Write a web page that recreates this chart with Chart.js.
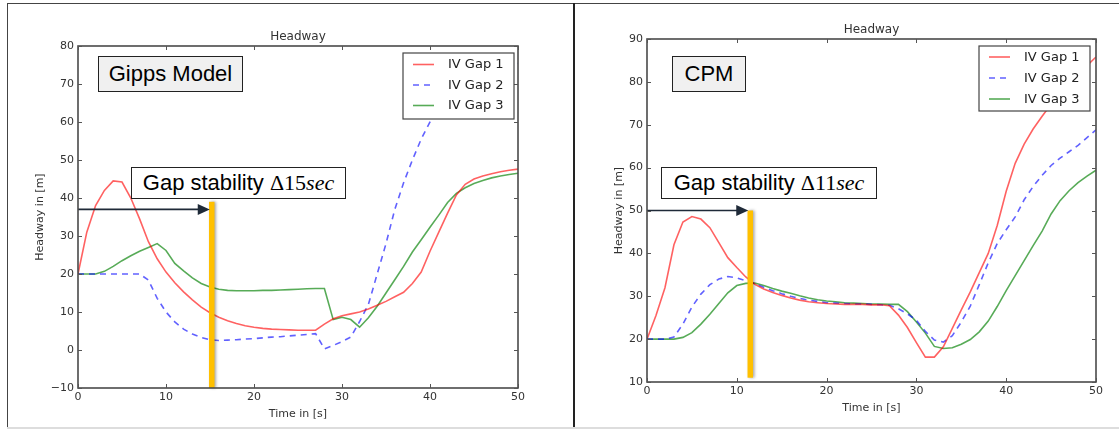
<!DOCTYPE html>
<html>
<head>
<meta charset="utf-8">
<script src="https://cdn.jsdelivr.net/npm/chart.js@4.4.1/dist/chart.umd.min.js"></script>
<style>
html,body{margin:0;padding:0;background:#fff;}
body{width:1119px;height:429px;position:relative;overflow:hidden;font-family:"Liberation Sans",Arial,sans-serif;}
canvas{position:absolute;top:0;}
.rule{position:absolute;}
.box{position:absolute;box-sizing:border-box;border:1px solid #222;display:flex;align-items:center;justify-content:center;white-space:nowrap;color:#000;font-size:22px;line-height:1;}
.m{font-family:"Liberation Serif","DejaVu Serif",serif;}
.m i{font-style:italic;}
</style>
</head>
<body>
<div class="rule" style="left:7px;top:3px;width:1112px;height:1px;background:#444;"></div>
<div class="rule" style="left:7px;top:3px;width:1px;height:425px;background:#444;"></div>
<div class="rule" style="left:573px;top:3px;width:2px;height:426px;background:#222;"></div>
<div class="rule" style="left:7px;top:427px;width:1112px;height:2px;background:#ddd;"></div>

<canvas id="gipps" width="572" height="429" style="left:0px;width:572px;height:429px;"></canvas>
<canvas id="cpm" width="544" height="429" style="left:575px;width:544px;height:429px;"></canvas>

<div class="box" style="left:98px;top:56px;width:145px;height:36px;background:#f0f0f0;">Gipps Model</div>
<div class="box" style="left:672px;top:56px;width:74px;height:36px;background:#f0f0f0;">CPM</div>
<div class="box" style="left:131px;top:167px;width:215px;height:32px;background:#fff;">Gap stability&nbsp;<span class="m">Δ15<i>sec</i></span></div>
<div class="box" style="left:661px;top:167px;width:216px;height:32px;background:#fff;">Gap stability&nbsp;<span class="m">Δ11<i>sec</i></span></div>

<script>
// ---------- data ----------
const timeS = [0,1,2,3,4,5,6,7,8,9,10,11,12,13,14,15,16,17,18,19,20,21,22,23,24,25,26,27,28,29,30,31,32,33,34,35,36,37,38,39,40,41,42,43,44,45,46,47,48,49,50];
const seriesNames = ['IV Gap 1','IV Gap 2','IV Gap 3'];
const xTicks = [0,10,20,30,40,50];
const gippsYTicks = [-10,0,10,20,30,40,50,60,70,80];
const cpmYTicks = [10,20,30,40,50,60,70,80,90];

const gippsGap1 = [20,31,38,42,44.5,44.2,40,34.5,28.5,24,
  20.5,17.7,15.3,13.2,11.3,9.8,8.6,7.7,7,6.4,
  6,5.7,5.5,5.4,5.3,5.2,5.2,5.2,6.8,8.2,
  9,9.5,10,10.8,11.8,12.8,14,15.2,17.5,20.5,
  26,31,36,40.8,43.6,45,45.8,46.4,46.9,47.3,47.6];
const gippsGap2 = [20,20,20,20,20,20,20,20,18.4,13.6,
  10,7.4,5.5,4.2,3.3,2.7,2.5,2.6,2.7,2.9,
  3,3.2,3.4,3.5,3.7,3.9,4.1,4.3,0.3,1.2,
  2.2,3.4,7.5,12,20,28,37,44,50,55.5,
  60,64,67.5,70.5,73,74.5,75.2,75.4,75.4,75.4,75.4];
const gippsGap3 = [20,20,20,20.7,22,23.5,24.8,26,27,28,
  26.2,22.8,20.8,19,17.5,16.6,16,15.7,15.6,15.6,
  15.6,15.7,15.7,15.8,15.9,16,16.1,16.2,16.2,8,
  8.6,8,6,8.5,11.5,15,18.5,22,25.8,29,
  32.3,35.5,38.8,41.2,42.7,43.8,44.6,45.3,45.8,46.2,46.5];

const cpmGap1 = [20,25.5,32,42,47.3,48.6,48,46,42.5,39,
  36.7,34.5,32.8,31.7,30.9,30.2,29.6,29.1,28.7,28.5,
  28.3,28.2,28.1,28.1,28.1,28,28,27.8,25.6,22.7,
  19.2,15.8,15.8,18.2,22.5,26.8,31,35.5,40,46.5,
  54.5,61,65.5,69,72,74.8,77.2,79.5,81.7,83.8,85.8];
const cpmGap2 = [20,20,20,20.5,23.5,27.5,30.5,32.7,34,34.6,
  34.3,33.6,32.9,32.1,31.3,30.6,30,29.5,29.1,28.8,
  28.5,28.4,28.3,28.2,28.2,28.1,28,27.9,27.1,25.9,
  24.4,21.8,19.8,19.3,20.8,24,27.7,32.7,37.8,42.3,
  45.5,48.5,52.5,55.6,58.2,60.5,62.2,63.7,65.2,67,68.8];
const cpmGap3 = [20,20,20,20,20.4,21.5,23.5,25.8,28.3,30.8,
  32.5,33,33.1,32.5,31.8,31.2,30.7,30.1,29.6,29.2,
  28.9,28.7,28.5,28.4,28.3,28.2,28.2,28.1,28.1,26.4,
  24,21.4,18.3,17.8,18,18.8,19.9,21.7,24.2,27.6,
  31.3,34.8,38.3,41.8,45.2,49.2,52.3,54.6,56.5,58,59.4];

// annotation marks (data units): stability bar time, bar top/bottom, arrow level
const gippsMarker = {t: 15.2, top: 39, bottom: -10, arrow: 37};
const cpmMarker = {t: 11.5, top: 50, bottom: 11, arrow: 50};

// ---------- styles ----------
const lineStyles = [
  {color: 'rgba(255,0,0,0.62)', dash: []},
  {color: 'rgba(0,0,255,0.62)', dash: [6,5]},
  {color: 'rgba(0,128,0,0.66)', dash: []}
];
const FONT = '"DejaVu Sans", sans-serif';

function fmtTick(v){ return v < 0 ? '\u2212' + Math.abs(v) : String(v); }

const overlay = {
  id: 'overlay',
  afterDatasetsDraw(chart, args, o) {
    const ctx = chart.ctx, a = chart.chartArea, xs = chart.scales.x, ys = chart.scales.y;
    // stability bar
    const bx = xs.getPixelForValue(o.marker.t);
    const yt = ys.getPixelForValue(o.marker.top), yb = ys.getPixelForValue(o.marker.bottom);
    ctx.save();
    ctx.shadowColor = 'rgba(0,0,0,0.35)'; ctx.shadowBlur = 3; ctx.shadowOffsetX = 1.5;
    ctx.fillStyle = '#FFC000';
    ctx.fillRect(bx - 2.75, yt, 5.5, yb - yt);
    ctx.restore();
    // arrow
    const ay = ys.getPixelForValue(o.marker.arrow);
    const tip = bx - 2;
    ctx.save();
    ctx.strokeStyle = '#1f2a38'; ctx.fillStyle = '#1f2a38'; ctx.lineWidth = 1.6;
    ctx.beginPath(); ctx.moveTo(a.left, ay); ctx.lineTo(tip - 10, ay); ctx.stroke();
    ctx.beginPath(); ctx.moveTo(tip, ay); ctx.lineTo(tip - 12, ay - 5.5); ctx.lineTo(tip - 12, ay + 5.5); ctx.closePath(); ctx.fill();
    ctx.restore();
    // frame
    ctx.save();
    ctx.strokeStyle = '#4a4a4a'; ctx.lineWidth = 1.6;
    ctx.strokeRect(a.left, a.top, a.right - a.left, a.bottom - a.top);
    // inward ticks on all sides
    ctx.lineWidth = 1; ctx.strokeStyle = '#555';
    ctx.beginPath();
    xTicks.forEach(v => {
      const x = Math.round(xs.getPixelForValue(v)) + 0.5;
      ctx.moveTo(x, a.bottom); ctx.lineTo(x, a.bottom - 4);
      ctx.moveTo(x, a.top); ctx.lineTo(x, a.top + 4);
    });
    o.yTicks.forEach(v => {
      const y = Math.round(ys.getPixelForValue(v)) + 0.5;
      ctx.moveTo(a.left, y); ctx.lineTo(a.left + 4, y);
      ctx.moveTo(a.right, y); ctx.lineTo(a.right - 4, y);
    });
    ctx.stroke();
    ctx.restore();
    // legend
    const L = o.legend;
    const lx = a.right - L.right - L.w, ly = a.top + L.top;
    ctx.save();
    ctx.fillStyle = '#fff'; ctx.fillRect(lx, ly, L.w, L.h);
    ctx.strokeStyle = '#444'; ctx.lineWidth = 1.2; ctx.strokeRect(lx, ly, L.w, L.h);
    ctx.font = '13px ' + FONT; ctx.textBaseline = 'middle'; ctx.textAlign = 'left';
    chart.data.datasets.forEach((ds, i) => {
      const yy = ly + L.first + i * L.step;
      ctx.strokeStyle = ds.borderColor; ctx.lineWidth = 1.6; ctx.setLineDash(ds.borderDash || []);
      ctx.beginPath(); ctx.moveTo(lx + 10, yy); ctx.lineTo(lx + 31, yy); ctx.stroke();
      ctx.setLineDash([]);
      ctx.fillStyle = '#222'; ctx.fillText(ds.label, lx + 45, yy + 0.5);
    });
    ctx.restore();
  },
  afterDraw(chart, args, o) {
    const ctx = chart.ctx, a = chart.chartArea;
    ctx.save();
    ctx.fillStyle = '#333';
    ctx.textAlign = 'center'; ctx.textBaseline = 'alphabetic';
    ctx.font = '12px ' + FONT;
    ctx.fillText('Headway', (a.left + a.right) / 2, a.top - 6);
    ctx.font = '11px ' + FONT;
    ctx.fillText('Time in [s]', (a.left + a.right) / 2, a.bottom + 28.5);
    ctx.translate(o.yTitleX, (a.top + a.bottom) / 2);
    ctx.rotate(-Math.PI / 2);
    ctx.textBaseline = 'middle';
    ctx.fillText('Headway in [m]', 0, 0);
    ctx.restore();
  }
};

function makeChart(id, series, yTicks, marker, lay) {
  const datasets = series.map((vals, i) => ({
    label: seriesNames[i],
    data: timeS.map((t, k) => ({x: t, y: vals[k]})),
    borderColor: lineStyles[i].color,
    borderDash: lineStyles[i].dash,
    borderWidth: 1.6,
    pointRadius: 0,
    tension: 0,
    fill: false
  }));
  return new Chart(document.getElementById(id), {
    type: 'line',
    data: {datasets},
    plugins: [overlay],
    options: {
      responsive: false,
      animation: false,
      devicePixelRatio: 1,
      layout: {padding: {top: lay.top, right: lay.right, left: 0, bottom: 0}},
      plugins: {
        legend: {display: false},
        title: {display: false},
        tooltip: {enabled: false},
        overlay: {marker, yTicks, legend: lay.legend, yTitleX: lay.yTitleX}
      },
      scales: {
        x: {
          type: 'linear', min: xTicks[0], max: xTicks[xTicks.length - 1],
          afterBuildTicks: s => { s.ticks = xTicks.map(v => ({value: v})); },
          ticks: {font: {family: FONT, size: 11}, color: '#333', padding: 3, callback: fmtTick, maxRotation: 0},
          grid: {display: false, drawTicks: false},
          border: {display: false},
          afterFit: s => { s.height = lay.xH; }
        },
        y: {
          type: 'linear', min: yTicks[0], max: yTicks[yTicks.length - 1],
          afterBuildTicks: s => { s.ticks = yTicks.map(v => ({value: v})); },
          ticks: {font: {family: FONT, size: 11}, color: '#333', padding: 4, callback: fmtTick},
          grid: {display: false, drawTicks: false},
          border: {display: false},
          afterFit: s => { s.width = lay.yW; }
        }
      }
    }
  });
}

makeChart('gipps', [gippsGap1, gippsGap2, gippsGap3], gippsYTicks, gippsMarker,
  {top: 46, right: 54, xH: 41, yW: 78, yTitleX: 40,
   legend: {right: 4, top: 7, w: 111, h: 66, first: 11.5, step: 20.5}});
makeChart('cpm', [cpmGap1, cpmGap2, cpmGap3], cpmYTicks, cpmMarker,
  {top: 39, right: 23, xH: 47, yW: 72, yTitleX: 44,
   legend: {right: 6, top: 7, w: 111, h: 65, first: 11, step: 21}});
</script>
</body>
</html>
